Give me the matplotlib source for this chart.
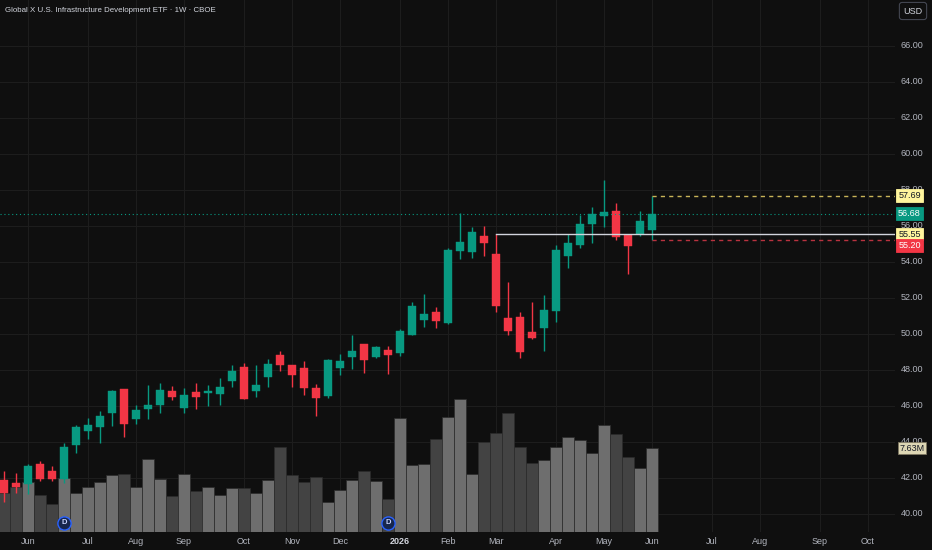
import matplotlib
matplotlib.use('Agg')
import matplotlib.pyplot as plt
import matplotlib.transforms as mtrans
import numpy as np

plt.rcParams['font.family'] = ['Liberation Sans', 'DejaVu Sans']

# weekly bars, Jun 2025 .. Jun 2026
opens = [41.89, 41.70, 41.67, 42.78, 42.37, 41.93, 43.81, 44.63, 44.85, 45.63,
         46.96, 45.30, 45.82, 46.04, 46.85, 45.89, 46.78, 46.70, 46.67, 47.41,
         48.15, 46.85, 47.59, 48.81, 48.26, 48.11, 47.00, 46.57, 48.09, 48.74,
         49.43, 48.74, 49.09, 48.93, 49.96, 50.78, 51.22, 50.59, 54.61, 54.57,
         55.44, 54.43, 50.89, 50.96, 50.09, 50.35, 51.28, 54.35, 54.93, 56.09,
         56.57, 56.83, 55.50, 55.54, 55.78]
highs = [42.41, 42.26, 42.78, 42.93, 42.67, 43.93, 44.96, 45.33, 45.70, 46.89,
         46.96, 46.04, 47.15, 47.26, 47.11, 47.00, 47.30, 47.19, 47.56, 48.26,
         48.41, 48.26, 48.59, 49.07, 48.26, 48.52, 47.22, 48.63, 48.89, 49.94,
         49.43, 49.35, 49.35, 50.28, 51.78, 52.20, 51.52, 54.76, 56.72, 55.94,
         55.98, 55.54, 52.89, 51.22, 51.78, 52.17, 54.93, 55.56, 56.61, 57.06,
         58.56, 57.26, 55.50, 56.83, 57.69]
lows = [40.67, 41.19, 41.11, 41.82, 41.85, 41.70, 43.37, 44.15, 43.93, 44.89,
        44.30, 45.00, 45.30, 45.63, 46.33, 45.63, 45.82, 46.00, 46.04, 47.04,
        46.41, 46.52, 47.07, 47.96, 47.07, 46.59, 45.44, 46.46, 47.72, 48.06,
        47.85, 48.65, 47.78, 48.78, 49.93, 50.39, 50.35, 50.56, 54.17, 54.24,
        54.31, 51.24, 49.96, 48.65, 49.70, 49.07, 50.67, 53.65, 54.80, 55.04,
        55.95, 55.24, 53.33, 55.44, 55.20]
closes = [41.19, 41.52, 42.67, 41.96, 41.96, 43.70, 44.81, 44.96, 45.44, 46.85,
          45.00, 45.78, 46.04, 46.89, 46.52, 46.63, 46.52, 46.81, 47.07, 47.93,
          46.41, 47.19, 48.33, 48.26, 47.74, 47.00, 46.44, 48.56, 48.48, 49.06,
          48.54, 49.28, 48.81, 50.15, 51.56, 51.09, 50.74, 54.67, 55.09, 55.67,
          55.04, 51.56, 50.17, 49.00, 49.76, 51.32, 54.65, 55.07, 56.09, 56.67,
          56.78, 55.37, 54.91, 56.30, 56.68]
volumes = [3.60, 4.10, 4.56, 3.41, 2.59, 4.90, 3.59, 4.10, 4.56, 5.20,
           5.26, 4.10, 6.66, 4.81, 3.26, 5.29, 3.74, 4.10, 3.41, 4.01,
           3.99, 3.53, 4.78, 7.79, 5.23, 4.56, 4.99, 2.74, 3.80, 4.74,
           5.56, 4.69, 2.98, 10.37, 6.08, 6.17, 8.52, 10.49, 12.10, 5.29,
           8.25, 9.02, 10.83, 7.79, 6.29, 6.54, 7.79, 8.67, 8.43, 7.18,
           9.73, 8.97, 6.81, 5.81, 7.63]

month_pos = [2, 7, 11, 15, 20, 24, 28, 33, 37, 41, 46, 50, 54, 59, 63, 68, 72]
month_labels = ['Jun', 'Jul', 'Aug', 'Sep', 'Oct', 'Nov', 'Dec', '2026', 'Feb',
                'Mar', 'Apr', 'May', 'Jun', 'Jul', 'Aug', 'Sep', 'Oct']
dividend_pos = [5, 32]
price_ticks = np.arange(40, 67, 2)

last_close = 56.68
last_high = 57.69
last_low = 55.20
ray_level = 55.55
ray_start = 41

BG = '#0f0f0f'
GRID = '#1d1d1d'
UP = '#089981'
DOWN = '#f23645'
TXT = '#b2b5be'

W, H = 932, 550
fig = plt.figure(figsize=(W / 100, H / 100), dpi=100, facecolor=BG)
rect = [0, 18 / H, 895 / W, 532 / H]

ax_bg = fig.add_axes(rect)
ax_vol = fig.add_axes(rect, sharex=ax_bg)
ax = fig.add_axes(rect, sharex=ax_bg, sharey=ax_bg)
ax_bg.set_facecolor(BG)
for a in (ax_vol, ax):
    a.patch.set_alpha(0)
for a in (ax_bg, ax_vol, ax):
    for s in a.spines.values():
        s.set_visible(False)
    a.set_xticks([])
    a.set_yticks([])

x = np.arange(len(opens))
o = np.array(opens)
c = np.array(closes)
up = c >= o

ax_bg.set_xlim(-1 / 3, 74.25)
ax_bg.set_ylim(39.0, 66 + 46 / 18)
for p in price_ticks:
    ax_bg.axhline(p, color=GRID, lw=0.8)
for m in month_pos:
    ax_bg.axvline(m, color=GRID, lw=0.8)

# volume
ax_vol.set_ylim(0, 48.5)
vcol = np.where(up, '#6e6e6e', '#434343')
ax_vol.bar(x, volumes, width=0.92, color=vcol, edgecolor='#2b2b2b', linewidth=0.5)

# candles
col = np.where(up, UP, DOWN)
ax.vlines(x, lows, highs, colors=col, linewidth=1.0)
ax.bar(x, np.abs(c - o), bottom=np.minimum(o, c), width=0.74, color=col,
       edgecolor=col, linewidth=0.3)

# price lines
ax.axhline(last_close, color=UP, lw=0.8, ls=(0, (1, 2.5)))
ax.plot([ray_start, 80], [ray_level, ray_level], color='#d1d4dc', lw=1.0)
ax.plot([x[-1], 80], [last_high, last_high], color='#c9b458', lw=1.0, ls=(0, (3, 3)))
ax.plot([x[-1], 80], [last_low, last_low], color='#b8323f', lw=1.0, ls=(0, (3, 3)))

# dividend markers
tr_d = mtrans.blended_transform_factory(ax.transData, ax.transAxes)
for d in dividend_pos:
    ax.plot(d, 9 / 532, 'o', ms=9.5, mfc='#17264d', mec='#2962ff', mew=1.0,
            transform=tr_d, clip_on=False)
    ax.text(d, 9 / 532, 'D', transform=tr_d, ha='center', va='center',
            fontsize=5.5, color='#c9d4ff', fontweight='bold')

# right price scale
tr_r = mtrans.blended_transform_factory(fig.transFigure, ax.transData)
xr = 912 / W
for p in price_ticks:
    fig.text(xr, p, f'{p:.2f}', transform=tr_r, ha='center', va='center',
             fontsize=6.5, color=TXT, zorder=1)

def price_tag(val, ypos, fc, tc, ec=None, text=None):
    fig.text(909.5 / W, ypos, text or f'{val:.2f}', transform=tr_r, ha='center',
             va='center', fontsize=6.5, color=tc, zorder=5,
             bbox=dict(boxstyle='square,pad=0.2', fc=fc, ec=ec or fc, lw=0.6))

price_tag(last_high, last_high, '#fff59d', '#131722')
price_tag(last_close, last_close, UP, '#ffffff')
price_tag(ray_level, ray_level, '#fff59d', '#131722')
price_tag(last_low, last_low - 0.27, DOWN, '#ffffff')

tr_v = mtrans.blended_transform_factory(fig.transFigure, ax_vol.transData)
fig.text(912 / W, volumes[-1], f'{volumes[-1]:.2f}M', transform=tr_v, ha='center',
         va='center', fontsize=6.5, color='#131722', zorder=5,
         bbox=dict(boxstyle='square,pad=0.18', fc='#ddd6b4', ec='#7d7660', lw=0.6))

# time axis
tr_x = mtrans.blended_transform_factory(ax.transData, fig.transFigure)
for m, lab in zip(month_pos, month_labels):
    bold = lab == '2026'
    ax.text(m, 9 / H, lab, transform=tr_x, ha='center', va='center',
            fontsize=6.5, color='#d1d4dc' if bold else TXT,
            fontweight='bold' if bold else 'normal', clip_on=False)

# header
fig.text(5 / W, 1 - 11 / H, 'Global X U.S. Infrastructure Development ETF · 1W · CBOE',
         ha='left', va='center', fontsize=5.7, color='#d1d4dc')
fig.text(913 / W, 1 - 11 / H, 'USD', ha='center', va='center', fontsize=6.5,
         color='#d1d4dc', bbox=dict(boxstyle='round,pad=0.45,rounding_size=0.3',
                                    fc=BG, ec='#434651', lw=0.8))

fig.savefig('out.png', dpi=100, facecolor=BG)
